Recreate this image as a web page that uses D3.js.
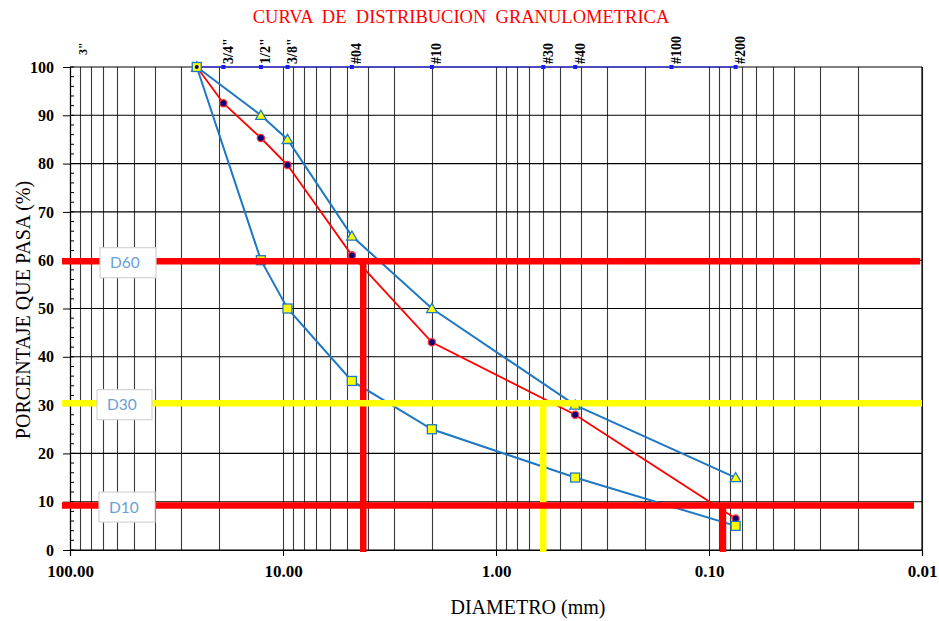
<!DOCTYPE html>
<html>
<head>
<meta charset="utf-8">
<script src="https://cdn.jsdelivr.net/npm/d3@7"></script>
<style>
  html, body { margin: 0; padding: 0; background: #ffffff; }
  svg { display: block; }
  .serif { font-family: "Liberation Serif", "Times New Roman", serif; }
</style>
</head>
<body>
<svg id="chart" width="939" height="621"></svg>
<script>
// Sieve sizes (mm) and their names, shown along the top edge
const sieveNames = ['3/4"', '1/2"', '3/8"', '#04', '#10', '#30', '#40', '#100', '#200'];
const sieveSizes = [19.05, 12.7, 9.525, 4.75, 2.0, 0.6, 0.425, 0.15, 0.075];
const coarseName = '3"';
const coarseSize = 76.2;
// Top reference line at 100 % (from 1" to #200)
const topLineSizes = [25.4, 19.05, 12.7, 9.525, 4.75, 2.0, 0.6, 0.425, 0.15, 0.075];

// Sample gradation (red)
const sampleSizes = [25.4, 19.05, 12.7, 9.525, 4.75, 2.0, 0.425, 0.075];
const samplePass  = [100, 92.5, 85.3, 79.7, 61, 43, 28, 6.5];

// Specification band (blue)
const bandSizes = [25.4, 12.7, 9.525, 4.75, 2.0, 0.425, 0.075];
const upperPass = [100, 90, 85, 65, 50, 30, 15];
const lowerPass = [100, 60, 50, 35, 25, 15, 5];

// Characteristic diameters
const dNames   = ['D60', 'D30', 'D10'];
const dPercent = [59.8, 30.4, 9.2];
const dSizes   = [4.2, 0.6, 0.086];
const dLineEnd = [0.0102, 0.01, 0.0109];
const dLineStart = 109;
const dColors  = ['#ff0000', '#ffff00', '#ff0000'];

const xTickValues = [100, 10, 1, 0.1, 0.01];
const yTickValues = d3.range(0, 101, 10);
const yMinorValues = d3.range(0, 101, 2);

(function draw() {
  const svg = d3.select('#chart');
  const mLeft = 70, mRight = 922, mTop = 67, mBottom = 550;

  const x = d3.scaleLog().domain([100, 0.01]).range([mLeft, mRight]);
  const y = d3.scaleLinear().domain([0, 100]).range([mBottom, mTop]);

  // Title
  svg.append('text')
    .attr('class', 'serif')
    .attr('x', 461).attr('y', 23)
    .attr('text-anchor', 'middle')
    .attr('font-size', 18.5)
    .attr('fill', '#ff0000')
    .style('white-space', 'pre')
    .text('CURVA  DE  DISTRIBUCION  GRANULOMETRICA');

  // Grid: every 1..9 multiple of each decade
  const grid = svg.append('g');
  grid.selectAll('line.v')
    .data(x.ticks())
    .join('line')
    .attr('class', 'v')
    .attr('x1', d => Math.round(x(d)) + 0.5).attr('x2', d => Math.round(x(d)) + 0.5)
    .attr('y1', mTop).attr('y2', mBottom)
    .attr('stroke', '#3a3a3a').attr('stroke-width', 1.1);
  grid.selectAll('line.h')
    .data(yTickValues)
    .join('line')
    .attr('class', 'h')
    .attr('x1', mLeft).attr('x2', mRight)
    .attr('y1', d => y(d)).attr('y2', d => y(d))
    .attr('stroke', '#000').attr('stroke-width', 1.1);
  grid.append('line')
    .attr('x1', mRight).attr('x2', mRight).attr('y1', mTop).attr('y2', mBottom)
    .attr('stroke', '#000').attr('stroke-width', 1.2);

  // X axis
  const xAxis = svg.append('g')
    .attr('transform', `translate(0,${mBottom})`)
    .call(d3.axisBottom(x).tickValues(xTickValues).tickFormat(d3.format('.2f')).tickSize(6).tickPadding(9));
  xAxis.select('.domain').attr('stroke', '#000').attr('stroke-width', 1.2);
  xAxis.selectAll('.tick line').attr('stroke', '#000');
  xAxis.selectAll('.tick text')
    .attr('class', 'serif')
    .attr('font-size', 17).attr('font-weight', 'bold').attr('fill', '#000');

  // Y axis
  const yAxis = svg.append('g')
    .attr('transform', `translate(${mLeft},0)`)
    .call(d3.axisLeft(y).tickValues(yTickValues).tickSize(7).tickPadding(9));
  yAxis.select('.domain').attr('stroke', '#000').attr('stroke-width', 1.2);
  yAxis.selectAll('.tick line').attr('stroke', '#000');
  yAxis.selectAll('.tick text')
    .attr('class', 'serif')
    .attr('font-size', 16).attr('font-weight', 'bold').attr('fill', '#000');
  svg.append('g')
    .selectAll('line')
    .data(yMinorValues)
    .join('line')
    .attr('x1', mLeft).attr('x2', mLeft + 4)
    .attr('y1', d => y(d)).attr('y2', d => y(d))
    .attr('stroke', '#000').attr('stroke-width', 1);

  // Axis titles
  svg.append('text')
    .attr('class', 'serif')
    .attr('x', 528).attr('y', 614)
    .attr('text-anchor', 'middle')
    .attr('font-size', 20).attr('fill', '#000')
    .text('DIAMETRO (mm)');
  svg.append('text')
    .attr('class', 'serif')
    .attr('transform', 'translate(30,310) rotate(-90)')
    .attr('text-anchor', 'middle')
    .attr('font-size', 20).attr('fill', '#000')
    .text('PORCENTAJE QUE PASA (%)');

  // Top sieve line at 100 %
  const topLine = d3.line().x(d => x(d)).y(() => y(100));
  svg.append('path')
    .attr('d', topLine(topLineSizes))
    .attr('fill', 'none').attr('stroke', '#1a1aff').attr('stroke-width', 1.2);
  svg.append('g')
    .selectAll('rect')
    .data(sieveSizes)
    .join('rect')
    .attr('x', d => x(d) - 2).attr('y', y(100) - 2)
    .attr('width', 4).attr('height', 4)
    .attr('fill', '#1a1aff');

  // Sieve labels
  svg.append('g')
    .selectAll('text')
    .data(sieveSizes)
    .join('text')
    .attr('class', 'serif')
    .attr('transform', d => `translate(${x(d) + 9.5},${y(100) - 3}) rotate(-90)`)
    .attr('font-size', 14).attr('font-weight', 'bold').attr('fill', '#000')
    .text((d, i) => sieveNames[i]);
  svg.append('text')
    .attr('class', 'serif')
    .attr('transform', `translate(${x(coarseSize) - 8},${y(100) - 12}) rotate(-90)`)
    .attr('font-size', 12).attr('font-weight', 'bold').attr('fill', '#000')
    .text(coarseName);

  // Gradation curves
  const curve = (sizes) => d3.line().x((d, i) => x(sizes[i])).y(d => y(d));
  const blue = '#1f78c4';

  svg.append('path')
    .attr('d', curve(bandSizes)(upperPass))
    .attr('fill', 'none').attr('stroke', blue).attr('stroke-width', 2);
  svg.append('path')
    .attr('d', curve(bandSizes)(lowerPass))
    .attr('fill', 'none').attr('stroke', blue).attr('stroke-width', 2);
  svg.append('path')
    .attr('d', curve(sampleSizes)(samplePass))
    .attr('fill', 'none').attr('stroke', '#ff0000').attr('stroke-width', 1.8);

  const tri = d3.symbol().type(d3.symbolTriangle).size(48);
  svg.append('g')
    .selectAll('path')
    .data(upperPass)
    .join('path')
    .attr('d', tri)
    .attr('transform', (d, i) => `translate(${x(bandSizes[i])},${y(d) + 1})`)
    .attr('fill', '#ffff00').attr('stroke', blue).attr('stroke-width', 1.3);

  svg.append('g')
    .selectAll('circle')
    .data(samplePass)
    .join('circle')
    .attr('cx', (d, i) => x(sampleSizes[i])).attr('cy', d => y(d))
    .attr('r', 3.6)
    .attr('fill', '#000080').attr('stroke', '#ff3333').attr('stroke-width', 1.3);

  svg.append('g')
    .selectAll('rect')
    .data(lowerPass)
    .join('rect')
    .attr('x', (d, i) => x(bandSizes[i]) - 4.5).attr('y', d => y(d) - 4.5)
    .attr('width', 9).attr('height', 9)
    .attr('fill', '#ffff00').attr('stroke', blue).attr('stroke-width', 1.3);
  // navy dot at the common 100 % point
  svg.append('circle')
    .attr('cx', x(sampleSizes[0])).attr('cy', y(samplePass[0]))
    .attr('r', 2).attr('fill', '#000080');

  // Characteristic diameter guides
  const guides = svg.append('g');
  dNames.forEach((name, i) => {
    guides.append('line')
      .attr('x1', x(dLineStart)).attr('x2', x(dLineEnd[i]))
      .attr('y1', y(dPercent[i])).attr('y2', y(dPercent[i]))
      .attr('stroke', dColors[i]).attr('stroke-width', 6.5);
    guides.append('line')
      .attr('x1', x(dSizes[i])).attr('x2', x(dSizes[i]))
      .attr('y1', y(dPercent[i])).attr('y2', y(-0.4))
      .attr('stroke', dColors[i]).attr('stroke-width', 6.5);
  });

  // Guide name boxes
  const boxX = [100, 97, 99];
  const boxW = [56, 55, 56];
  dNames.forEach((name, i) => {
    const cy = y(dPercent[i]) + 1.5;
    const g = svg.append('g');
    g.append('rect')
      .attr('x', boxX[i]).attr('y', cy - 15)
      .attr('width', boxW[i]).attr('height', 30)
      .attr('fill', '#ffffff').attr('stroke', '#d4d4d4').attr('stroke-width', 1.2);
    g.append('text')
      .attr('x', boxX[i] + 10).attr('y', cy + 5.5)
      .attr('font-family', 'Lato, "Open Sans", sans-serif')
      .attr('font-size', 15.5).attr('fill', '#6a9fd6')
      .text(name);
  });
})();
</script>
</body>
</html>
